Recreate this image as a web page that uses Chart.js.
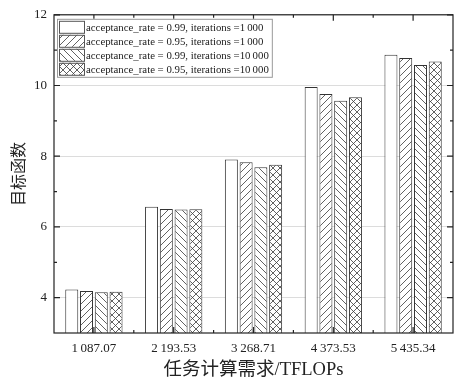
<!DOCTYPE html>
<html>
<head>
<meta charset="utf-8">
<script src="https://cdn.jsdelivr.net/npm/chart.js@4.4.0/dist/chart.umd.min.js"></script>
<style>
  html, body { margin: 0; padding: 0; background: #fff; }
</style>
</head>
<body>
<canvas id="chart" width="456" height="382"></canvas>
<script>
// data
const categories = ['1\u2009087.07', '2\u2009193.53', '3\u2009268.71', '4\u2009373.53', '5\u2009435.34'];
const seriesLabels = [
  'acceptance_rate = 0.99, iterations =1\u2009000',
  'acceptance_rate = 0.95, iterations =1\u2009000',
  'acceptance_rate = 0.99, iterations =10\u2009000',
  'acceptance_rate = 0.95, iterations =10\u2009000'
];
const rate99Iter1k  = [4.23, 6.57, 7.91, 9.96, 10.87];
const rate95Iter1k  = [4.19, 6.51, 7.83, 9.76, 10.78];
const rate99Iter10k = [4.15, 6.49, 7.69, 9.57, 10.58];
const rate95Iter10k = [4.17, 6.50, 7.76, 9.67, 10.68];
const yTicks = [4, 6, 8, 10, 12];
const yMinorTicks = [5, 7, 9, 11];
const hatches = ['none', 'slash', 'back', 'cross'];

const SERIF = "'Liberation Serif', 'Times New Roman', serif";
const CJK = "'Liberation Serif', 'Noto Sans CJK SC', serif";
const INK = '#333';

function makePattern(kind) {
  const size = 7;
  const c = document.createElement('canvas');
  c.width = size; c.height = size;
  const g = c.getContext('2d');
  g.fillStyle = '#fff';
  g.fillRect(0, 0, size, size);
  if (kind === 'none') return g.createPattern(c, 'repeat');
  g.strokeStyle = '#3a3a3a';
  g.lineWidth = 0.8;
  g.beginPath();
  if (kind === 'slash' || kind === 'cross') {
    g.moveTo(-1, size + 1); g.lineTo(size + 1, -1);
  }
  if (kind === 'back' || kind === 'cross') {
    g.moveTo(-1, -1); g.lineTo(size + 1, size + 1);
  }
  g.stroke();
  return g.createPattern(c, 'repeat');
}

const seriesData = [rate99Iter1k, rate95Iter1k, rate99Iter10k, rate95Iter10k];
const datasets = seriesData.map((vals, i) => ({
  label: seriesLabels[i],
  data: vals,
  backgroundColor: makePattern(hatches[i]),
  borderColor: INK,
  borderWidth: 1,
  categoryPercentage: 0.74,
  barPercentage: 0.88
}));

// frame, inward ticks and the boxed legend
const framePlugin = {
  id: 'frame',
  afterDatasetsDraw(chart) {
    const { ctx, chartArea: a, scales } = chart;
    const x = scales.x, y = scales.y;
    ctx.save();
    ctx.strokeStyle = '#222';
    ctx.lineWidth = 1.2;
    ctx.strokeRect(a.left, a.top, a.right - a.left, a.bottom - a.top);

    ctx.beginPath();
    const tick = (x1, y1, x2, y2) => { ctx.moveTo(x1, y1); ctx.lineTo(x2, y2); };
    yTicks.forEach(v => {
      const p = y.getPixelForValue(v);
      tick(a.left, p, a.left + 6, p);
      tick(a.right, p, a.right - 6, p);
    });
    yMinorTicks.forEach(v => {
      const p = y.getPixelForValue(v);
      tick(a.left, p, a.left + 3, p);
      tick(a.right, p, a.right - 3, p);
    });
    categories.forEach((c, i) => {
      const p = x.getPixelForValue(i);
      tick(p, a.bottom, p, a.bottom - 6);
      tick(p, a.top, p, a.top + 6);
      if (i < categories.length - 1) {
        const m = x.getPixelForValue(i + 0.5);
        tick(m, a.bottom, m, a.bottom - 3);
        tick(m, a.top, m, a.top + 3);
      }
    });
    ctx.stroke();

    // legend
    const lx = a.left + 3, ly = a.top + 4, rowH = 14;
    ctx.font = '10.8px ' + SERIF;
    let maxW = 0;
    chart.data.datasets.forEach(d => { maxW = Math.max(maxW, ctx.measureText(d.label).width); });
    const boxW = 29 + maxW + 3, boxH = rowH * chart.data.datasets.length + 2;
    ctx.fillStyle = '#fff';
    ctx.fillRect(lx, ly, boxW, boxH);
    ctx.strokeStyle = '#999';
    ctx.lineWidth = 1;
    ctx.strokeRect(lx + 0.5, ly + 0.5, boxW, boxH);
    chart.data.datasets.forEach((d, i) => {
      const sy = ly + 2 + i * rowH;
      ctx.fillStyle = d.backgroundColor;
      ctx.fillRect(lx + 2, sy, 25, 12);
      ctx.strokeStyle = '#555';
      ctx.strokeRect(lx + 2.5, sy + 0.5, 25, 12);
      ctx.fillStyle = '#222';
      ctx.textBaseline = 'middle';
      ctx.fillText(d.label, lx + 29, sy + 7);
    });
    ctx.restore();
  }
};

new Chart(document.getElementById('chart'), {
  type: 'bar',
  data: { labels: categories, datasets: datasets },
  options: {
    responsive: false,
    animation: false,
    devicePixelRatio: 1,
    layout: { padding: { top: 9, right: 3, left: 0, bottom: 0 } },
    plugins: { legend: { display: false }, tooltip: { enabled: false } },
    scales: {
      x: {
        type: 'category',
        offset: true,
        grid: { display: false, drawTicks: false },
        border: { display: false },
        ticks: { color: '#222', font: { family: SERIF, size: 13 }, padding: 8, maxRotation: 0 },
        title: {
          display: true,
          text: '任务计算需求/TFLOPs',
          color: '#222',
          font: { family: CJK, size: 18.5 },
          padding: { top: 0, bottom: 1 }
        },
        afterFit(scale) { scale.height = 49; }
      },
      y: {
        min: 3,
        max: 12,
        grid: { color: '#dcdcdc', lineWidth: 1, drawTicks: false },
        border: { display: false },
        afterBuildTicks(scale) { scale.ticks = yTicks.map(v => ({ value: v })); },
        ticks: { color: '#222', font: { family: SERIF, size: 13 }, padding: 7 },
        title: {
          display: true,
          text: '目标函数',
          color: '#222',
          font: { family: CJK, size: 16 },
          padding: { top: 10, bottom: 0 }
        },
        afterFit(scale) { scale.width = 54; }
      }
    }
  },
  plugins: [framePlugin]
});
</script>
</body>
</html>
